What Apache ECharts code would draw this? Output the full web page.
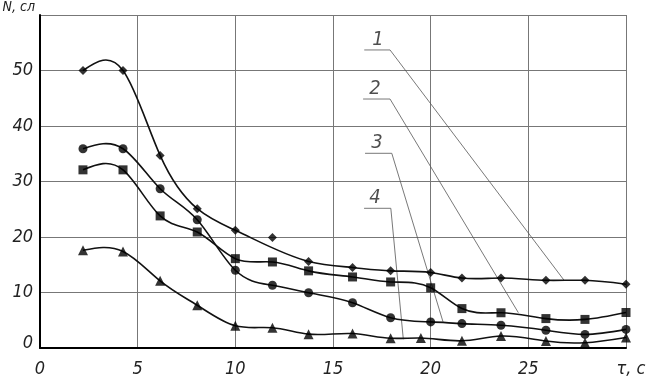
<!DOCTYPE html>
<html>
<head>
<meta charset="utf-8">
<script src="https://cdn.jsdelivr.net/npm/echarts@6/dist/echarts.min.js"></script>
<style>
html,body{margin:0;padding:0;background:#fff;}
#c{width:647px;height:381px;}
</style>
</head>
<body>
<div id="c"></div>
<script>
// ---- data ----
var xCommon = [2.2, 4.25, 6.15, 8.05, 10, 11.9, 13.75, 16, 17.95, 20, 21.6, 23.6, 25.9, 27.9, 30];
var x4 = [2.2, 4.25, 6.15, 8.05, 10, 11.9, 13.75, 16, 17.95, 19.5, 21.6, 23.6, 25.9, 27.9, 30];
var s1 = [50, 50, 34.7, 25.1, 21.2, 19.9, 15.6, 14.5, 13.9, 13.6, 12.6, 12.6, 12.2, 12.2, 11.5];
var s1OffCurve = [5]; // index of the point lying off the drawn curve
var s2 = [35.9, 35.9, 28.7, 23.1, 14.0, 11.3, 9.95, 8.15, 5.45, 4.7, 4.4, 4.1, 3.2, 2.45, 3.35];
var s3 = [32.1, 32.1, 23.8, 20.9, 16.1, 15.5, 13.9, 12.8, 11.9, 10.85, 7.1, 6.35, 5.3, 5.15, 6.4];
var s4 = [17.6, 17.4, 12.1, 7.7, 4.0, 3.65, 2.5, 2.6, 1.75, 1.8, 1.3, 2.15, 1.25, 0.95, 1.9];
var xTicks = [0, 5, 10, 15, 20, 25, 30];
var yTicks = [0, 10, 20, 30, 40, 50, 60];
var xName = 'τ, с';
var yName = 'N, сл';
// leader lines (callouts) with their labels
var leaderNames = ['1', '2', '3', '4'];
var leaderLabelPos = [[17.3, 53.7], [17.15, 44.9], [17.25, 35.1], [17.15, 25.2]];
var leaders = [
  [[16.6, 53.7], [17.92, 53.7], [26.83, 12.2]],
  [[16.54, 44.86], [17.92, 44.86], [24.49, 6.36]],
  [[16.64, 35.08], [18.01, 35.08], [20.63, 4.74]],
  [[16.59, 25.17], [17.96, 25.17], [18.6, 1.57]]
];
var symbols = ['diamond', 'circle', 'rect', 'triangle'];
var symbolSizes = [9, 9, 9, 10];

var FONT = "'Liberation Sans Narrow','DejaVu Sans Condensed','Liberation Sans',sans-serif";
function pairs(xs, ys, skip) {
  var out = [];
  for (var i = 0; i < xs.length; i++) {
    if (skip && skip.indexOf(i) >= 0) continue;
    out.push([xs[i], ys[i]]);
  }
  return out;
}

// natural cubic spline through pixel points -> SVG path data
function splinePath(P) {
  var n = P.length, i;
  var h = [], M = new Array(n).fill(0);
  for (i = 0; i < n - 1; i++) h.push(P[i + 1][0] - P[i][0]);
  if (n > 2) {
    var a = [], b = [], c = [], d = [];
    for (i = 1; i < n - 1; i++) {
      a.push(h[i - 1]); b.push(2 * (h[i - 1] + h[i])); c.push(h[i]);
      d.push(6 * ((P[i + 1][1] - P[i][1]) / h[i] - (P[i][1] - P[i - 1][1]) / h[i - 1]));
    }
    var m = b.length;
    for (i = 1; i < m; i++) {
      var w = a[i] / b[i - 1];
      b[i] -= w * c[i - 1];
      d[i] -= w * d[i - 1];
    }
    var sol = new Array(m);
    sol[m - 1] = d[m - 1] / b[m - 1];
    for (i = m - 2; i >= 0; i--) sol[i] = (d[i] - c[i] * sol[i + 1]) / b[i];
    for (i = 0; i < m; i++) M[i + 1] = sol[i];
  }
  var s = 'M' + P[0][0] + ' ' + P[0][1];
  for (i = 0; i < n - 1; i++) {
    var hh = h[i], dy = (P[i + 1][1] - P[i][1]) / hh;
    var s0 = dy - hh * (2 * M[i] + M[i + 1]) / 6;
    var s1v = dy + hh * (M[i] + 2 * M[i + 1]) / 6;
    s += ' C' + (P[i][0] + hh / 3) + ' ' + (P[i][1] + s0 * hh / 3) + ' ' +
      (P[i + 1][0] - hh / 3) + ' ' + (P[i + 1][1] - s1v * hh / 3) + ' ' +
      P[i + 1][0] + ' ' + P[i + 1][1];
  }
  return s;
}

function curveSeries(pts) {
  return {
    type: 'custom', coordinateSystem: 'cartesian2d', data: pts, encode: {x: 0, y: 1},
    silent: true, z: 3,
    renderItem: function (params, api) {
      if (params.dataIndex !== 0) return null;
      var P = pts.map(function (p) { return api.coord(p); });
      return {type: 'path', shape: {pathData: splinePath(P)},
        style: {stroke: '#111', lineWidth: 1.6, fill: 'none'}};
    }
  };
}

var allSeries = [[xCommon, s1, s1OffCurve], [xCommon, s2, null], [xCommon, s3, null], [x4, s4, null]];
var series = [];
allSeries.forEach(function (d, k) {
  series.push(curveSeries(pairs(d[0], d[1], d[2])));
  series.push({
    type: 'scatter', data: pairs(d[0], d[1], null), symbol: symbols[k], symbolSize: symbolSizes[k],
    itemStyle: {color: '#000'}, silent: true, z: 4
  });
});
leaders.forEach(function (pts) {
  series.push({
    type: 'line', data: pts, showSymbol: false, smooth: false,
    lineStyle: {color: '#555', width: 0.8}, silent: true, z: 2
  });
});
series.push({
  type: 'scatter', symbolSize: 0, silent: true,
  data: leaderLabelPos.map(function (p, i) { return [p[0], p[1], leaderNames[i]]; }),
  label: {show: true, position: 'top', distance: 0, formatter: function (p) { return p.data[2]; },
    fontFamily: FONT, fontStyle: 'italic', fontSize: 20, color: '#222'}
});

var chart = echarts.init(document.getElementById('c'), null, {renderer: 'canvas'});
chart.setOption({
  animation: false,
  backgroundColor: '#fff',
  grid: {left: 40, right: 21, top: 15, bottom: 33, containLabel: false, outerBoundsMode: 'none'},
  xAxis: {
    type: 'value', min: xTicks[0], max: xTicks[xTicks.length - 1], interval: 5,
    axisLine: {show: true, lineStyle: {color: '#000', width: 2}},
    axisTick: {show: false},
    splitLine: {show: true, lineStyle: {color: '#777', width: 1}},
    axisLabel: {
      margin: 12, fontFamily: FONT, fontStyle: 'italic', fontSize: 18, color: '#222',
      formatter: function (v) { return v === xTicks[xTicks.length - 1] ? '{n|' + xName + '}' : String(v); },
      rich: {n: {fontFamily: FONT, fontStyle: 'italic', fontSize: 18, color: '#222', padding: [0, 0, 0, 10]}}
    }
  },
  yAxis: {
    type: 'value', min: yTicks[0], max: yTicks[yTicks.length - 1], interval: 10,
    name: yName, nameLocation: 'end', nameGap: 1,
    nameTextStyle: {fontFamily: FONT, fontStyle: 'italic', fontSize: 14, color: '#222',
      align: 'right', verticalAlign: 'bottom', padding: [0, 5, 0, 0]},
    axisLine: {show: true, lineStyle: {color: '#000', width: 2}},
    axisTick: {show: false},
    splitLine: {show: true, lineStyle: {color: '#777', width: 1}},
    axisLabel: {
      margin: 7, fontFamily: FONT, fontStyle: 'italic', fontSize: 18, color: '#222',
      formatter: function (v) {
        if (v === yTicks[yTicks.length - 1]) return '';
        if (v === 0) return '{z|0}';
        return String(v);
      },
      rich: {
        z: {fontFamily: FONT, fontStyle: 'italic', fontSize: 18, color: '#222', padding: [0, 0, 10, 0]}
      }
    }
  },
  series: series
});
</script>
</body>
</html>
